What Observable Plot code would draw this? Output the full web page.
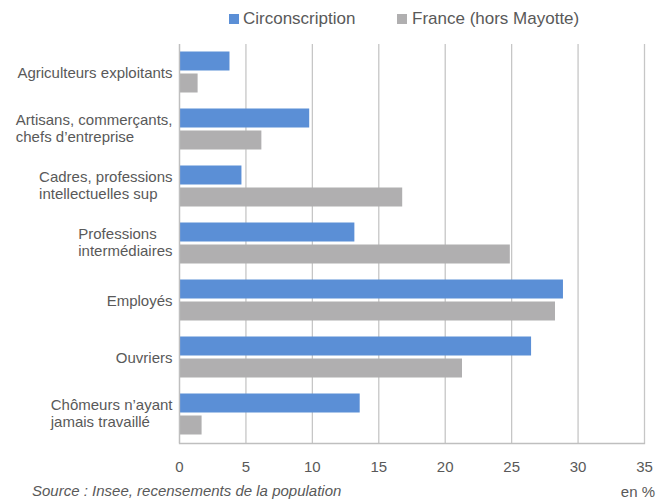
<!DOCTYPE html>
<html><head><meta charset="utf-8">
<script src="https://cdn.jsdelivr.net/npm/d3@7"></script>
<script src="https://cdn.jsdelivr.net/npm/@observablehq/plot@0.6"></script>
<style>
body{margin:0;background:#fff;font-family:"Liberation Sans",Arial,sans-serif;width:671px;height:499px;overflow:hidden;position:relative;color:#595959}
#legend{position:relative;height:32px;font-size:17px}
.sw{position:absolute;top:14px;width:10px;height:10px}
.lt{position:absolute;top:9px;line-height:20px;white-space:nowrap}
#chart svg{display:block}
.cap{position:absolute;font-size:15px;white-space:nowrap;line-height:16px}
</style></head>
<body>
<div id="legend"></div>
<div id="chart"></div>
<div class="cap" style="left:32px;top:483px;font-style:italic">Source : Insee, recensements de la population</div>
<div class="cap" style="right:16px;top:485px;line-height:13px">en %</div>
<script>
const categories = [
  "Agriculteurs exploitants",
  "Artisans, commerçants,\nchefs d’entreprise",
  "Cadres, professions\nintellectuelles sup",
  "Professions\nintermédiaires",
  "Employés",
  "Ouvriers",
  "Chômeurs n’ayant\njamais travaillé"
];
const series = ["Circonscription", "France (hors Mayotte)"];
const circonscription = [3.8, 9.8, 4.7, 13.2, 28.9, 26.5, 13.6];
const france = [1.4, 6.2, 16.8, 24.9, 28.3, 21.3, 1.7];
const colors = ["#5b8fd6", "#b0afb0"];
const xTicks = [0, 5, 10, 15, 20, 25, 30, 35];

const data = categories.flatMap((c, i) => [
  {cat: c, series: series[0], value: circonscription[i]},
  {cat: c, series: series[1], value: france[i]}
]);

// legend
const legend = document.getElementById("legend");
const legendX = [[229, 243], [397, 412]];
series.forEach((s, i) => {
  const sw = document.createElement("div");
  sw.className = "sw"; sw.style.left = legendX[i][0] + "px"; sw.style.background = colors[i];
  const t = document.createElement("div");
  t.className = "lt"; t.style.left = legendX[i][1] + "px"; t.textContent = s;
  legend.append(sw, t);
});

const chart = Plot.plot({
  width: 671,
  height: 445,
  marginTop: 9.5,
  marginBottom: 32,
  marginLeft: 179,
  marginRight: 27,
  style: {fontFamily: "'Liberation Sans', Arial, sans-serif", fontSize: "15px", color: "#595959", background: "white", overflow: "visible"},
  x: {domain: [0, 35], ticks: xTicks, tickSize: 0, tickPadding: 18, label: null},
  fy: {domain: categories, padding: 0, label: null, tickSize: 0, tickPadding: 7},
  y: {domain: series, paddingInner: 0.13, paddingOuter: 0.32, axis: null},
  color: {domain: series, range: colors},
  marks: [
    Plot.ruleX(xTicks, {stroke: "#c6c6c6", strokeWidth: 1.3}),
    Plot.barX(data, {fy: "cat", y: "series", x: "value", fill: "series"}),
    Plot.ruleX([0], {stroke: "#bfbfbf", strokeWidth: 1.3}),
    Plot.frame({anchor: "bottom", facetAnchor: "bottom", stroke: "#bfbfbf", strokeWidth: 1.3})
  ]
});
document.getElementById("chart").append(chart);

// left-align the lines of multi-line category labels inside their right-aligned block
chart.querySelectorAll("g[aria-label^='fy-axis'] text").forEach(t => {
  const spans = t.querySelectorAll("tspan");
  if (spans.length < 2) return;
  const bb = t.getBBox();
  t.setAttribute("text-anchor", "start");
  spans.forEach(s => s.setAttribute("x", bb.x));
  spans.forEach((s, i) => { if (i > 0) s.setAttribute("dy", "1.15em"); });
  const bb2 = t.getBBox();
  const shift = (bb.x + bb.width) - (bb2.x + bb2.width);
  if (Math.abs(shift) > 0.5) spans.forEach(s => s.setAttribute("x", bb.x + shift));
  const bb3 = t.getBBox();
  const vshift = (bb.y + bb.height / 2) - (bb3.y + bb3.height / 2) - 1.5;
  t.setAttribute("transform", (t.getAttribute("transform") || "") + ` translate(0,${vshift.toFixed(2)})`);
});
</script>
</body></html>
